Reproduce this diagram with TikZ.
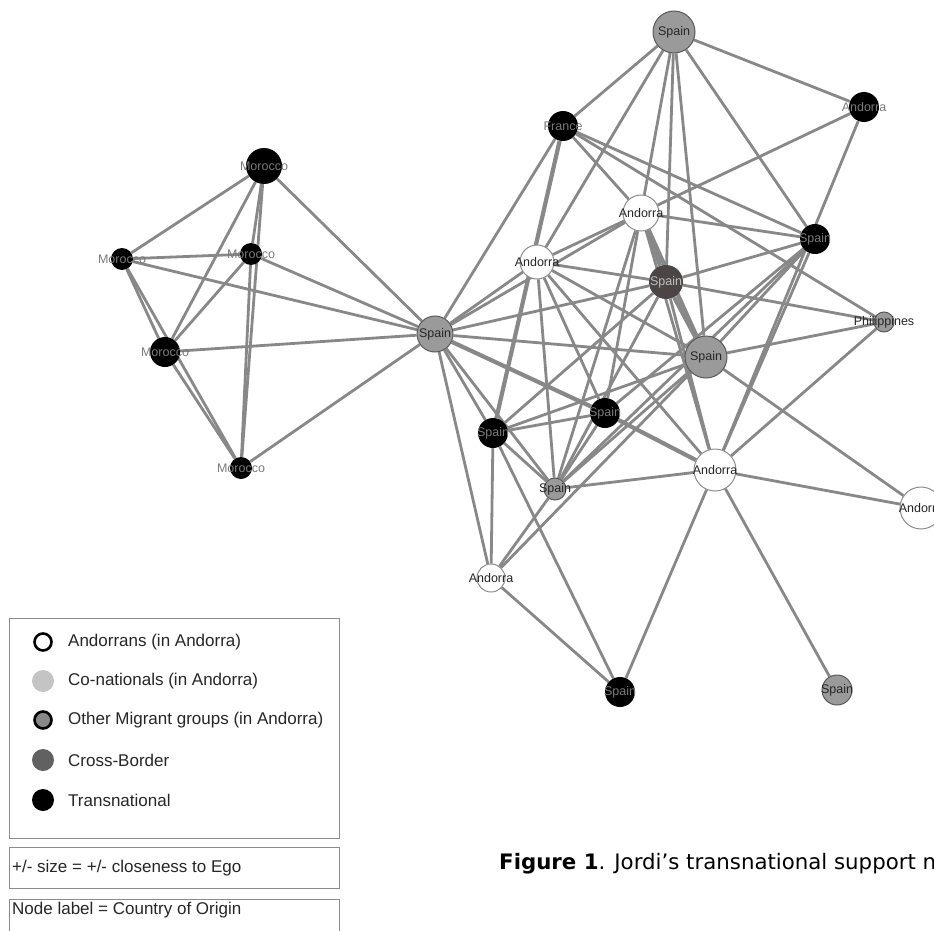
\documentclass[tikz,border=0pt]{standalone}
\usepackage{fontspec}
\setmainfont{Liberation Sans}
\newfontfamily\capfont{DejaVu Sans}
\usetikzlibrary{backgrounds}
\definecolor{tiegray}{HTML}{888888}
\definecolor{othergray}{HTML}{9A9A9A}
\definecolor{crossgray}{HTML}{4B4545}
\definecolor{conatgray}{HTML}{C4C4C4}
\definecolor{labgray}{HTML}{7A7A7A}
\definecolor{boxgray}{HTML}{8C8C8C}

\begin{document}
\begin{tikzpicture}[x=1pt, y=-1pt,
	pers/.style={circle, inner sep=0pt, minimum size=#1},
	nlabel/.style={font=\fontsize{12.5}{13}\selectfont, inner sep=0pt},
	trans/.style={pers=#1, fill=black, label={[nlabel, text=labgray]center:\nodetext}},
	trans/.default=30,
	andorran/.style={pers=#1, draw=boxgray, line width=1pt, fill=white, label={[nlabel, text=black!85]center:\nodetext}},
	migrant/.style={pers=#1, draw=black!65, line width=1pt, fill=othergray, label={[nlabel, text=black!85]center:\nodetext}},
	cross/.style={pers=#1, fill=crossgray, label={[nlabel, text=black!25]center:\nodetext}},
	tie/.style={draw=tiegray, line width=2.8pt},
	heavytie/.style={draw=tiegray, line width=4.2pt},
	legbox/.style={draw=boxgray, line width=1pt},
	legtext/.style={anchor=west, inner sep=0pt, text=black!85, font=\fontsize{17}{19}\selectfont}]
	\clip (0,0) rectangle (934,931);

	% Moroccan cluster
	\def\nodetext{Morocco}
	\node[trans=36] (mA) at (264,166) {};
	\node[trans=22] (mB) at (122,259) {};
	\node[trans=22] (mC) at (251,254) {};
	\node[trans=30] (mD) at (165,352) {};
	\node[trans=22] (mE) at (241,468) {};

	% Andorran cluster
	\def\nodetext{Spain}
	\node[migrant=36] (spC) at (435,334) {};
	\node[migrant=42] (spT) at (674,32) {};
	\node[cross=34] (spD) at (666,282) {};
	\node[trans=30] (spR) at (815,239) {};
	\node[migrant=42] (spB) at (706,357) {};
	\node[trans=30] (spK) at (605,413) {};
	\node[trans=30] (spL) at (493,433) {};
	\node[migrant=22] (spS) at (555,489) {};
	\node[trans=30] (spE) at (620,692) {};
	\node[migrant=30] (spG) at (837,690) {};
	\def\nodetext{Andorra}
	\node[trans=30] (anT) at (864,107) {};
	\node[andorran=36] (anA) at (641,213) {};
	\node[andorran=34] (anB) at (537,262) {};
	\node[andorran=42] (anC) at (715,470) {};
	\node[andorran=42] (anR) at (921,508) {};
	\node[andorran=28] (anD) at (491,578) {};
	\def\nodetext{France}
	\node[trans=30] (fr) at (563,126) {};
	\def\nodetext{Philippines}
	\node[migrant=20] (ph) at (884,322) {};

	\begin{scope}[on background layer]
	\foreach \a/\b in {mA/mB, mA/mC, mA/mD, mA/mE, mB/mC, mB/mD, mB/mE, mC/mD, mC/mE, mD/mE,
		spC/mA, spC/mB, spC/mC, spC/mD, spC/mE}
		\draw[tie] (\a) -- (\b);
	\foreach \a/\b in {spT/fr, spT/anB, spT/anA, spT/spD, spT/spB, spT/spR, spT/anT,
		anT/anA, anT/anC,
		fr/spC, fr/anA, fr/spR, fr/ph,
		anA/anB, anA/spC, anA/spR, anA/spK, anA/spS, anA/anC,
		anB/spC, anB/spD, anB/spS, anB/spK, anB/spB, anB/anC,
		spD/spC, spD/spR, spD/ph, spD/spL, spD/spS, spD/anC,
		spR/spK, spR/spS, spR/anC, spR/spB,
		ph/spB, ph/anC,
		spB/spC, spB/spL, spB/spS, spB/anR, spB/anD,
		spC/spL, spC/spS, spC/anD,
		spK/spL, spK/spS,
		spL/spS, spL/anD, spL/spE,
		spS/anC, spS/anD,
		anC/anR, anC/spE, anC/spG,
		anD/spE}
		\draw[tie] (\a) -- (\b);
	\foreach \a/\b in {fr/spL, anA/spD, spD/spB, spC/spK, spK/anC, anA/spB}
		\draw[heavytie] (\a) -- (\b);
	\end{scope}

	% legend
	\draw[legbox] (9,618) rectangle (339,838);
	\node[circle, draw=black, line width=2.6pt, fill=white, minimum size=17, inner sep=0pt] (kA) at (43,642) {};
	\node[circle, fill=conatgray, minimum size=22, inner sep=0pt] (kB) at (43,681) {};
	\node[circle, draw=black, line width=2.6pt, fill=tiegray, minimum size=17, inner sep=0pt] (kC) at (43,720) {};
	\node[circle, fill=black!62, minimum size=22, inner sep=0pt] (kD) at (43,760) {};
	\node[circle, fill=black, minimum size=22, inner sep=0pt] (kE) at (43,800) {};
	\node[legtext] (tA) at (68,642) {Andorrans (in Andorra)};
	\node[legtext] (tB) at (68,681) {Co-nationals (in Andorra)};
	\node[legtext] (tC) at (68,720) {Other Migrant groups (in Andorra)};
	\node[legtext] (tD) at (68,760) {Cross-Border};
	\node[legtext] (tE) at (68,800) {Transnational};
	\draw[legbox] (9,847) rectangle (339,888);
	\node[legtext] (tF) at (12,868) {+/- size = +/- closeness to Ego};
	\draw[legbox] (9,899) rectangle (339,945);
	\node[legtext] (tG) at (12,910) {Node label = Country of Origin};

	% caption
	\node[anchor=west, inner sep=0pt, font=\capfont\fontsize{21.3}{23}\selectfont] (cap) at (499,864)
		{\textbf{Figure 1}. Jordi’s transnational support n};
\end{tikzpicture}
\end{document}
